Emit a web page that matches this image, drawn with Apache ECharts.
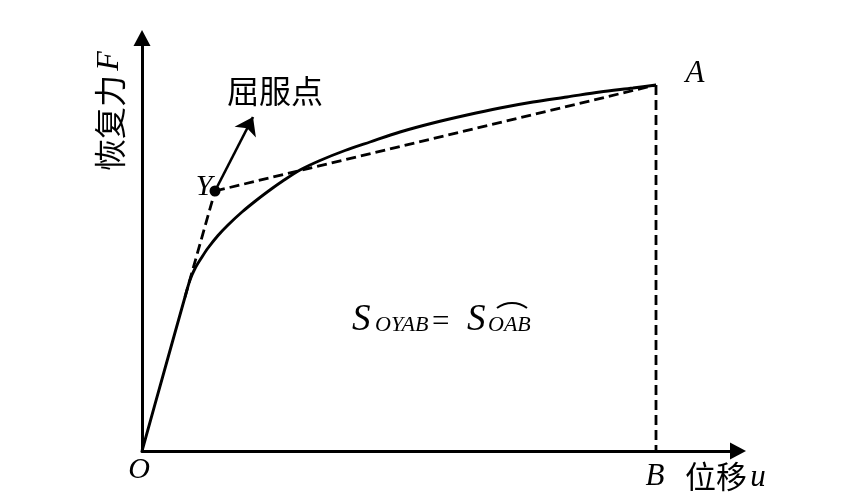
<!DOCTYPE html>
<html>
<head>
<meta charset="utf-8">
<script src="https://cdn.jsdelivr.net/npm/echarts@6/dist/echarts.min.js"></script>
<style>
html,body{margin:0;padding:0;background:#fff;}
#c{width:864px;height:503px;}
</style>
</head>
<body>
<div id="c"></div>
<script>
// Skeleton curve: displacement u vs restoring force F (arbitrary units)
var displacement = [0, 22, 43, 48, 53, 60, 66, 76, 86, 100, 116, 130, 140, 158, 178, 203, 228, 258, 291, 325, 358, 391, 425, 458, 491, 514];
var force        = [0, 79, 154, 171, 182.5, 194, 203, 215.5, 226, 239, 252, 262.5, 269.5, 281, 290.5, 300.5, 309, 319, 328, 336, 343, 349, 354, 359, 363, 366];
// Key points
var pointElasticEnd = [43, 154];
var pointY = [73, 260];
var pointA = [514, 366];
var pointB = [514, 0];
// yield-point pointer arrow tip
var yieldArrowEnd = [111, 334];
var axisMax = { u: 596, F: 413 };

var curve = displacement.map(function (u, i) { return [u, force[i]]; });

var chart = echarts.init(document.getElementById('c'), null, { renderer: 'canvas' });
var dashStyle = { color: '#000', width: 2.8, type: [10, 5] };
var serifItalic = { fontFamily: 'Liberation Serif', fontStyle: 'italic', fill: '#000' };
var cjk = { fontFamily: 'Noto Sans CJK SC' };

function txt(x, y, text, size, extra) {
  var s = Object.assign({ x: x, y: y, text: text, fontSize: size, fill: '#000', align: 'center', verticalAlign: 'middle' }, extra || {});
  return { type: 'text', style: s, silent: true, z: 10 };
}
function left(o) { return Object.assign({ align: 'left' }, serifItalic, o || {}); }

chart.setOption({
  animation: false,
  backgroundColor: '#fff',
  grid: { left: 142, right: 126, top: 38, bottom: 52 },
  xAxis: {
    type: 'value', min: 0, max: axisMax.u,
    axisLine: { lineStyle: { color: '#000', width: 3 }, symbol: ['none', 'triangle'], symbolSize: [17, 16] },
    axisTick: { show: false }, axisLabel: { show: false }, splitLine: { show: false }
  },
  yAxis: {
    type: 'value', min: 0, max: axisMax.F,
    axisLine: { lineStyle: { color: '#000', width: 3 }, symbol: ['none', 'triangle'], symbolSize: [17, 16] },
    axisTick: { show: false }, axisLabel: { show: false }, splitLine: { show: false }
  },
  series: [
    {
      type: 'line', data: curve, smooth: 0.3, showSymbol: false,
      lineStyle: { color: '#000', width: 2.9 }, z: 3
    },
    {
      type: 'line', data: [pointElasticEnd, pointY], showSymbol: false,
      lineStyle: dashStyle, z: 2
    },
    {
      type: 'line', data: [pointY, pointA], showSymbol: false,
      lineStyle: dashStyle, z: 2
    },
    {
      type: 'line', data: [pointA, pointB], showSymbol: false,
      lineStyle: dashStyle, z: 2
    },
    {
      type: 'scatter', data: [pointY], symbol: 'circle', symbolSize: 11,
      itemStyle: { color: '#000', opacity: 1 }, z: 5,
      markLine: {
        silent: true, symbol: ['none', 'arrow'], symbolSize: [18, 17],
        lineStyle: { color: '#000', width: 2.6, type: 'solid' },
        label: { show: false },
        data: [[{ coord: pointY }, { coord: yieldArrowEnd }]]
      }
    }
  ],
  graphic: [
    txt(275, 91, '屈服点', 32, cjk),
    {
      type: 'group', x: 110, y: 111, rotation: Math.PI / 2, silent: true,
      children: [
        txt(-12, 0, '恢复力', 32, cjk),
        txt(50, 0, 'F', 32, serifItalic)
      ]
    },
    txt(139, 470, 'O', 30, serifItalic),
    txt(204, 187, 'Y', 30, serifItalic),
    txt(695, 74, 'A', 31, serifItalic),
    txt(655, 477, 'B', 31, serifItalic),
    txt(716, 476, '位移', 31, cjk),
    txt(758, 478, 'u', 31, serifItalic),
    txt(352, 320, 'S', 37, left()),
    txt(375, 325, 'OYAB', 22, left()),
    txt(432, 323, '=', 31, { fontFamily: 'Liberation Serif', align: 'left' }),
    txt(467, 320, 'S', 37, left()),
    txt(488, 325, 'OAB', 22, left()),
    {
      type: 'arc', silent: true, z: 10,
      shape: { cx: 512, cy: 328, r: 25, startAngle: -Math.PI / 2 - 0.6435, endAngle: -Math.PI / 2 + 0.6435, clockwise: true },
      style: { stroke: '#000', lineWidth: 2, fill: null }
    }
  ]
});
</script>
</body>
</html>
